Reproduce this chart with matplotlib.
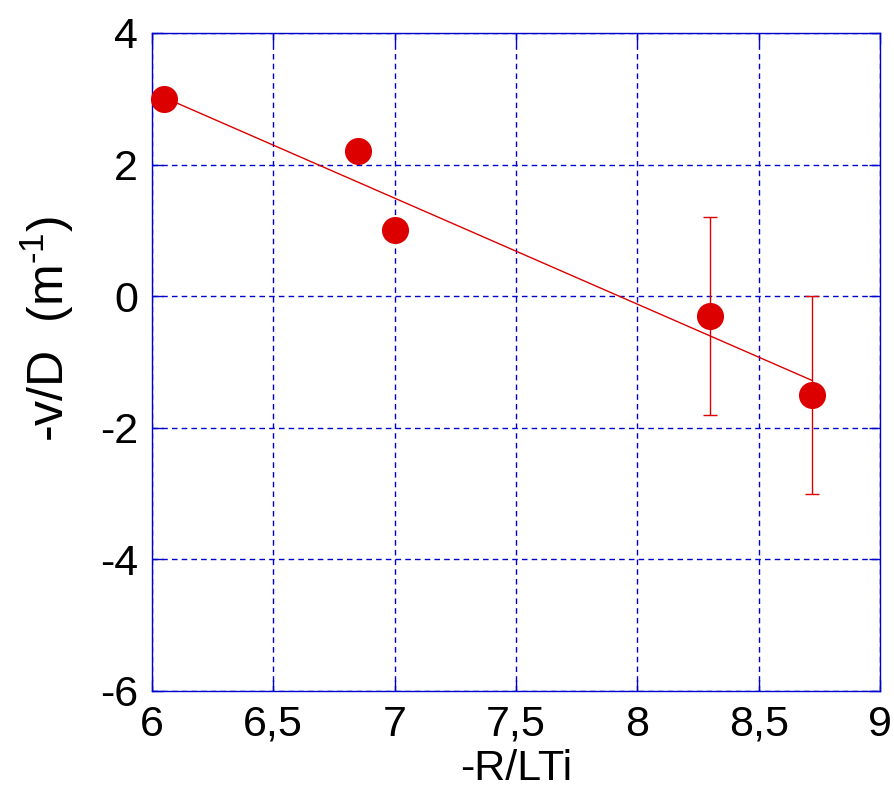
import matplotlib
matplotlib.use("Agg")
import matplotlib.pyplot as plt
from matplotlib import font_manager

plt.rcParams["axes.unicode_minus"] = False
plt.rcParams["mathtext.fontset"] = "custom"
plt.rcParams["mathtext.rm"] = "Liberation Sans"

# data
x_vals = [6.05, 6.85, 7.00, 8.30, 8.72]
y_vals = [3.00, 2.20, 1.00, -0.30, -1.50]
y_errs = [0.0, 0.0, 0.0, 1.50, 1.50]

# fitted line end points
fit_x = [6.05, 8.72]
fit_y = [3.02, -1.28]

x_ticks = [6, 6.5, 7, 7.5, 8, 8.5, 9]
x_tick_labels = ["6", "6,5", "7", "7,5", "8", "8,5", "9"]
y_ticks = [-6, -4, -2, 0, 2, 4]

names = {f.name for f in font_manager.fontManager.ttflist}
FONT = "Liberation Sans Narrow" if "Liberation Sans Narrow" in names else "Liberation Sans"

RED = "#dd0000"
GRID = "#0000cc"

fig = plt.figure(figsize=(8.95, 7.97), dpi=100)
ax = fig.add_axes([0.1698, 0.133, 0.8134, 0.8256])

ax.plot(fit_x, fit_y, color=RED, linewidth=1.0, zorder=3)

err_x = [x for x, e in zip(x_vals, y_errs) if e > 0]
err_y = [y for y, e in zip(y_vals, y_errs) if e > 0]
err_e = [e for e in y_errs if e > 0]
ax.errorbar(err_x, err_y, yerr=err_e, fmt="none", ecolor=RED,
            elinewidth=1.0, capsize=5, capthick=1.0, zorder=3)
ax.plot(x_vals, y_vals, "o", color=RED, markersize=19.5, markeredgewidth=0,
        zorder=4, clip_on=False)

ax.set_xlim(6, 9)
ax.set_ylim(-6, 4)
ax.set_xticks(x_ticks)
ax.set_xticklabels(x_tick_labels)
ax.set_yticks(y_ticks)

ax.grid(True, color=GRID, linestyle=(0, (4, 3)), linewidth=1.0)
for s in ax.spines.values():
    s.set_color(GRID)
    s.set_linewidth(1.0)
ax.tick_params(direction="in", length=8, width=1.0, color=GRID,
               labelsize=31, pad=10, top=True, right=True)
for lab in ax.get_xticklabels() + ax.get_yticklabels():
    lab.set_fontfamily(FONT)

ax.set_xlabel("-R/LTi", fontsize=31, family=FONT, labelpad=3)
ax.set_ylabel(r"-v/D  (m$^{\text{-1}}$)", fontsize=36, family="Liberation Sans")
ax.yaxis.set_label_coords(-0.105, 0.55)

fig.savefig("out.png", dpi=100)
